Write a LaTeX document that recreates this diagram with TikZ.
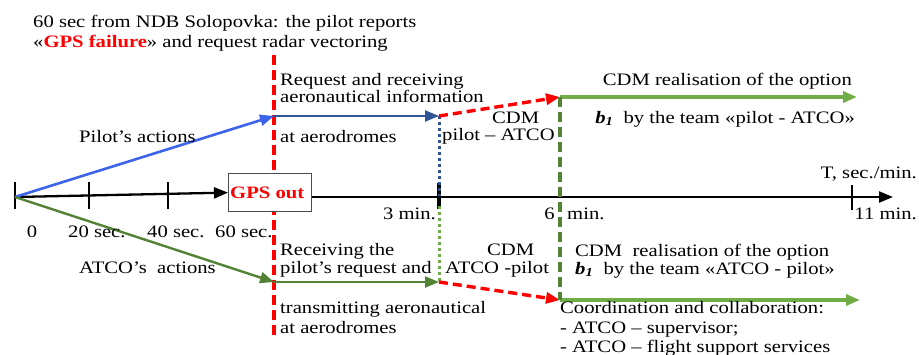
\documentclass[tikz,border=0pt]{standalone}
\usepackage{fontspec}
\setmainfont[FakeStretch=1.18]{Liberation Serif}
\usetikzlibrary{arrows.meta}
\definecolor{redd}{RGB}{255,0,0}
\definecolor{blueA}{RGB}{60,100,235}
\definecolor{blueB}{RGB}{47,85,151}
\definecolor{greenA}{RGB}{84,130,53}
\definecolor{greenB}{RGB}{112,173,71}
\tikzset{
  lbl/.style={inner sep=0pt, anchor=base west, font=\fontsize{17.5}{20}\selectfont},
  lblr/.style={lbl, anchor=base east},
  lblc/.style={lbl, anchor=base},
  tip/.style={-{Triangle[length=14pt,width=11pt]}},
  tickmark/.style={line width=2.4pt, black},
  reddash/.style={redd, line width=3.6pt, dash pattern=on 10pt off 5pt},
}
\begin{document}
\begin{tikzpicture}[x=1pt,y=-1pt]
\useasboundingbox (0,0) rectangle (919,354);
% coordinates
\coordinate (O) at (15,197);
\coordinate (P1) at (274,116);
\coordinate (P2) at (439,116);
\coordinate (P3) at (560,97);
\coordinate (P4) at (857,97);
\coordinate (A1) at (274,282);
\coordinate (A2) at (439,282);
\coordinate (A3) at (560,300);
\coordinate (A4) at (860,300);
\coordinate (R1) at (274,55);
\coordinate (R2) at (274,337);
\coordinate (E) at (893,197);
% red vertical line
\draw[reddash] (R1) -- (R2);
% box
\node[draw=black!70, fill=white, line width=1.2pt, minimum width=83pt, minimum height=38pt, inner sep=0pt, anchor=north west] (box) at (228,173) {};
\node[inner sep=0pt, anchor=base west, text=redd, font=\fontsize{17.5}{20}\selectfont\bfseries] (gps) at (230,198) {GPS out};
% axis
\draw[line width=2.3pt, tip] (O) -- (box.west);
\draw[line width=2.3pt, tip] (box.east |- O) -- (E);
% ticks
\coordinate (t0a) at (15,182); \coordinate (t0b) at (15,209);
\coordinate (t1a) at (89,182); \coordinate (t1b) at (89,209);
\coordinate (t2a) at (168,182); \coordinate (t2b) at (168,209);
\coordinate (t3a) at (439,183); \coordinate (t3b) at (439,209);
\coordinate (t4a) at (852,185); \coordinate (t4b) at (852,210);
\draw[tickmark] (t0a) -- (t0b);
\draw[tickmark] (t1a) -- (t1b);
\draw[tickmark] (t2a) -- (t2b);
\draw[tickmark, line width=3.2pt] (t3a) -- (t3b);
\draw[tickmark] (t4a) -- (t4b);
% dotted lines
\coordinate (d1) at (439,196);
\coordinate (d2) at (439,206);
\draw[blueB, line width=3pt, dash pattern=on 3pt off 3pt] (P2) -- (d1);
\draw[greenB, line width=3pt, dash pattern=on 3pt off 3pt] (d2) -- (A2);
% pilot arrows
\draw[blueA, line width=2.6pt, tip] (O) -- (P1);
\draw[blueB, line width=2.2pt, tip] (P1) -- (P2);
\draw[reddash, line width=3.4pt, dash pattern=on 9pt off 5pt, tip] (P2) -- (P3);
\draw[greenB, line width=3.4pt, tip] (P3) -- (P4);
% ATCO arrows
\draw[greenA, line width=2.4pt, tip] (O) -- (A1);
\draw[greenA, line width=2.4pt, tip] (A1) -- (A2);
\draw[reddash, line width=3.4pt, dash pattern=on 9pt off 5pt, tip] (A2) -- (A3);
\draw[greenB, line width=3.4pt, tip] (A3) -- (A4);
% green dashed vertical
\draw[greenA, line width=3.2pt, dash pattern=on 10pt off 5pt] (P3) -- (A3);
% texts
\node[lbl] (top1) at (33,27) {60 sec from NDB Solopovka: the pilot reports};
\node[lbl] (top2) at (33,47) {«\textcolor{redd}{\bfseries GPS failure}» and request radar vectoring};
\node[lbl] (req1) at (280,85) {Request and receiving};
\node[lbl] (req2) at (280,102) {aeronautical information};
\node[lbl] (req3) at (280,142) {at aerodromes};
\node[lbl] (pa) at (79,142) {Pilot’s actions};
\node[lbl] (cdm1) at (492,123) {CDM};
\node[lbl] (cdm1b) at (442,140) {pilot – ATCO};
\node[lblr] (cr1) at (852,85) {CDM realisation of the option};
\node[lblr] (cr2) at (855,123) {\textbf{\textit{b\textsubscript{1}}}\ \ by the team «pilot - ATCO»};
\node[lblr] (T) at (917,178) {T, sec./min.};
\node[lblc] (l0) at (32,237) {0};
\node[lbl] (l20) at (68,237) {20 sec.};
\node[lbl] (l40) at (147,237) {40 sec.};
\node[lbl] (l60) at (215,237) {60 sec.};
\node[lblr] (l3) at (436,219) {3 min.};
\node[lblr] (l6) at (555,219) {6};
\node[lbl] (l6m) at (567,219) {min.};
\node[lblr] (l11) at (917,219) {11 min.};
\node[lbl] (rc1) at (280,255) {Receiving the};
\node[lbl] (rc2) at (280,273) {pilot’s request and};
\node[lbl] (aa) at (79,273) {ATCO’s\ \ actions};
\node[lbl] (cdm2) at (487,255) {CDM};
\node[lbl] (cdm2b) at (445,273) {ATCO -pilot};
\node[lbl] (cr3) at (575,256) {CDM\ \ realisation of the option};
\node[lbl] (cr4) at (575,274) {\textbf{\textit{b\textsubscript{1}}}\ \ by the team «ATCO - pilot»};
\node[lbl] (tr1) at (280,313) {transmitting aeronautical};
\node[lbl] (tr2) at (280,333) {at aerodromes};
\node[lbl] (co1) at (560,313) {Coordination and collaboration:};
\node[lbl] (co2) at (560,333) {- ATCO – supervisor;};
\node[lbl] (co3) at (560,352) {- ATCO – flight support services};
\end{tikzpicture}
\end{document}
